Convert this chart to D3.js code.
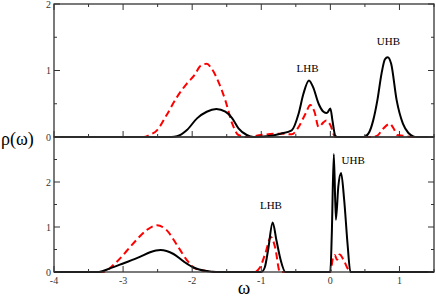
<!DOCTYPE html>
<html>
<head>
<meta charset="utf-8">
<script src="https://cdn.jsdelivr.net/npm/d3@7"></script>
<style>
  body { margin: 0; background: #fff; }
  svg { display: block; }
</style>
</head>
<body>
<svg id="chart" width="436" height="299" font-family="'Liberation Serif', 'DejaVu Serif', serif"></svg>
<script>
// data: [omega, rho]
var topBlack = [[-4,0],[-2.3,0],[-2.22,0.01],[-2.08,0.1],[-1.93,0.28],[-1.79,0.38],[-1.65,0.42],[-1.52,0.38],[-1.42,0.28],[-1.33,0.13],[-1.21,0.03],[-1.11,0],[-0.92,0.01],[-0.72,0.05],[-0.56,0.1],[-0.46,0.35],[-0.39,0.65],[-0.31,0.85],[-0.25,0.75],[-0.17,0.5],[-0.1,0.38],[-0.05,0.36],[0,0.43],[0.03,0.25],[0.07,0.02],[0.1,0],[0.48,0],[0.55,0.05],[0.62,0.25],[0.68,0.55],[0.74,0.95],[0.79,1.17],[0.83,1.2],[0.88,1.1],[0.96,0.55],[1.05,0.2],[1.13,0.06],[1.2,0.01],[1.25,0],[1.5,0]];
var topRed = [[-4,0],[-2.7,0],[-2.62,0.03],[-2.51,0.1],[-2.37,0.33],[-2.22,0.6],[-2.08,0.8],[-1.96,0.94],[-1.88,1.07],[-1.79,1.1],[-1.72,1.03],[-1.62,0.83],[-1.52,0.55],[-1.42,0.2],[-1.33,0.03],[-1.2,0],[-1.01,0.03],[-0.72,0.05],[-0.56,0.04],[-0.46,0.15],[-0.36,0.35],[-0.29,0.48],[-0.23,0.38],[-0.17,0.15],[-0.1,0.22],[-0.06,0.25],[0,0.18],[0.07,0],[0.6,0],[0.68,0.02],[0.76,0.12],[0.86,0.2],[0.92,0.12],[0.97,0.03],[1.05,0.02],[1.2,0],[1.5,0]];
var botBlack = [[-4,0],[-3.35,0],[-3.19,0.08],[-3,0.19],[-2.75,0.34],[-2.61,0.44],[-2.46,0.49],[-2.27,0.4],[-2.12,0.23],[-1.98,0.1],[-1.79,0.02],[-1.65,0],[-1.0,0],[-0.95,0.1],[-0.9,0.5],[-0.835,1.1],[-0.78,0.7],[-0.72,0.27],[-0.65,0],[0,0],[0.02,0.8],[0.05,2.62],[0.08,1.16],[0.115,1.9],[0.155,2.2],[0.2,1.6],[0.25,0.6],[0.29,0],[1.5,0]];
var botRed = [[-4,0],[-3.3,0],[-3.09,0.23],[-2.85,0.64],[-2.66,0.93],[-2.51,1.04],[-2.37,0.93],[-2.22,0.6],[-2.08,0.27],[-1.96,0.08],[-1.79,0.02],[-1.65,0],[-1.1,0],[-1.02,0.1],[-0.94,0.42],[-0.86,0.78],[-0.8,0.55],[-0.73,0],[0,0],[0.01,0.05],[0.035,0.3],[0.063,0.38],[0.097,0.27],[0.135,0.39],[0.19,0.27],[0.265,0.04],[0.29,0],[1.5,0]];

var xTicks = [-4,-3,-2,-1,0,1];
var topYTicks = [0,1,2];
var botYTicks = [0,1,2];
var bandLabels = [
  {panel:"top", text:"LHB", x:-0.33, y:0.98},
  {panel:"top", text:"UHB", x:0.84, y:1.38},
  {panel:"bot", text:"LHB", x:-0.86, y:1.4},
  {panel:"bot", text:"UHB", x:0.33, y:2.4}
];

var svg = d3.select("#chart");
var left = 54, right = 434;

var x = d3.scaleLinear().domain([-4, 1.5]).range([left, right]);
var yTop = d3.scaleLinear().domain([0, 2]).range([137, 4]);
var yBot = d3.scaleLinear().domain([0, 3]).range([272, 137]);

function drawPanel(y, yTicks, blk, red, showX, showTopTicks) {
  var g = svg.append("g");
  var minorX = d3.range(-4, 1.51, 0.5);
  var minorY = d3.range(0, y.domain()[1] + 0.01, 0.5);
  var y0 = y.range()[0], y1 = y.range()[1];

  // curves
  var line = d3.line()
    .x(function(d){ return x(d[0]); })
    .y(function(d){ return y(d[1]); })
    .curve(d3.curveMonotoneX);

  g.append("path").datum(red)
    .attr("d", line)
    .attr("fill", "none")
    .attr("stroke", "#ff0000")
    .attr("stroke-width", 2)
    .attr("stroke-dasharray", "7,4");

  g.append("path").datum(blk)
    .attr("d", line)
    .attr("fill", "none")
    .attr("stroke", "#000")
    .attr("stroke-width", 2);

  // ticks (inside the frame)
  minorX.forEach(function(v){
    var len = (Math.abs(v - Math.round(v)) < 1e-6) ? 6 : 3;
    g.append("line").attr("x1", x(v)).attr("x2", x(v)).attr("y1", y0).attr("y2", y0 - len)
      .attr("stroke", "#333").attr("stroke-width", 1);
    if (showTopTicks)
      g.append("line").attr("x1", x(v)).attr("x2", x(v)).attr("y1", y1).attr("y2", y1 + len)
        .attr("stroke", "#333").attr("stroke-width", 1);
  });
  minorY.forEach(function(v){
    var len = (Math.abs(v - Math.round(v)) < 1e-6) ? 6 : 3;
    g.append("line").attr("x1", left).attr("x2", left + len).attr("y1", y(v)).attr("y2", y(v))
      .attr("stroke", "#333").attr("stroke-width", 1);
    g.append("line").attr("x1", right).attr("x2", right - len).attr("y1", y(v)).attr("y2", y(v))
      .attr("stroke", "#333").attr("stroke-width", 1);
  });

  // frame
  g.append("rect").attr("x", left).attr("y", y1).attr("width", right - left).attr("height", y0 - y1)
    .attr("fill", "none").attr("stroke", "#333").attr("stroke-width", 1.3);

  // y tick labels
  g.selectAll(".yl").data(yTicks).enter().append("text")
    .attr("x", left - 3).attr("y", function(d){ return y(d) + 3.5; })
    .attr("text-anchor", "end").attr("font-size", 10).attr("fill", "#333")
    .text(function(d){ return d; });

  if (showX) {
    g.selectAll(".xl").data(xTicks).enter().append("text")
      .attr("x", function(d){ return x(d); }).attr("y", y0 + 12)
      .attr("text-anchor", "middle").attr("font-size", 10).attr("fill", "#333")
      .text(function(d){ return d; });
  }
}

drawPanel(yTop, topYTicks, topBlack, topRed, false, true);
drawPanel(yBot, botYTicks, botBlack, botRed, true, false);

bandLabels.forEach(function(l){
  var y = l.panel === "top" ? yTop : yBot;
  svg.append("text").attr("x", x(l.x)).attr("y", y(l.y))
    .attr("text-anchor", "middle").attr("font-size", 11).attr("fill", "#000")
    .text(l.text);
});

// axis titles
svg.append("text").attr("x", 244).attr("y", 294).attr("text-anchor", "middle")
  .attr("font-size", 19).text("ω");
svg.append("text").attr("x", 1).attr("y", 145).attr("text-anchor", "start")
  .attr("font-size", 18).text("ρ(ω)");
</script>
</body>
</html>
